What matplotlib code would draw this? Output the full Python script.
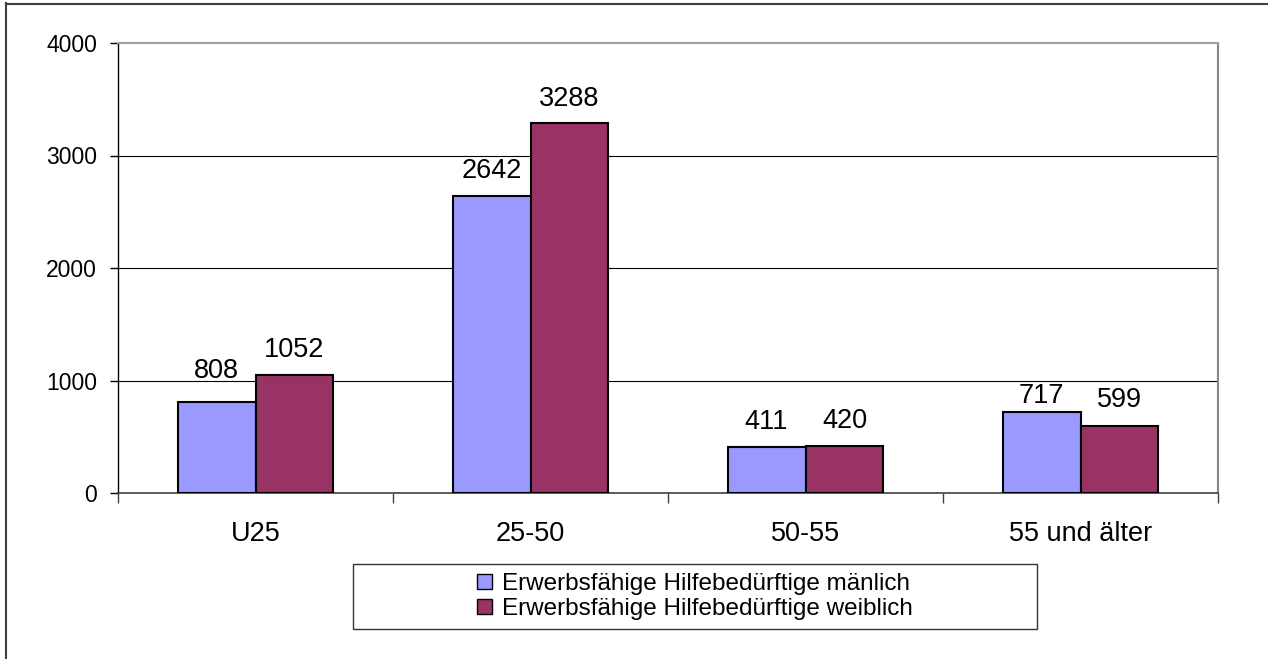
import matplotlib
matplotlib.use("Agg")
import matplotlib.pyplot as plt
from matplotlib.patches import Patch, Rectangle
from matplotlib.lines import Line2D
import numpy as np

plt.rcParams['font.family'] = ['Liberation Sans', 'DejaVu Sans']

# Data
categories = ["U25", "25-50", "50-55", "55 und älter"]
maennlich = [808, 2642, 411, 717]
weiblich = [1052, 3288, 420, 599]
series_labels = ["Erwerbsfähige Hilfebedürftige mänlich",
                 "Erwerbsfähige Hilfebedürftige weiblich"]
y_ticks = [0, 1000, 2000, 3000, 4000]

# Styling
col_m = "#9999FF"
col_w = "#993366"
bar_w = 0.2836
label_offsets_m = [17.3, 12.6, 12.9, 6.5]   # points above bar top
label_offsets_w = [13.0, 12.3, 12.9, 13.6]

W, H = 1268, 659
fig = plt.figure(figsize=(W / 100, H / 100), dpi=100)
fig.patch.set_facecolor("white")

ax = fig.add_axes([118 / W, 1 - 493 / H, 1100 / W, 450 / H])
x = np.arange(len(categories))

bars_m = ax.bar(x - bar_w / 2, maennlich, width=bar_w, color=col_m,
                edgecolor="black", linewidth=1.5, zorder=3)
bars_w = ax.bar(x + bar_w / 2, weiblich, width=bar_w, color=col_w,
                edgecolor="black", linewidth=1.5, zorder=3)

for bars, vals, offs in ((bars_m, maennlich, label_offsets_m),
                         (bars_w, weiblich, label_offsets_w)):
    for b, v, o in zip(bars, vals, offs):
        ax.annotate(str(v), (b.get_x() + b.get_width() / 2, v),
                    xytext=(0, o), textcoords="offset points",
                    ha="center", va="baseline", fontsize=19.5,
                    color="black", zorder=4)

# Horizontal gridlines between the axis limits
for t in y_ticks[1:-1]:
    ax.axhline(t, color="black", linewidth=0.8, zorder=1)

ax.set_xlim(-0.5, len(categories) - 0.5)
ax.set_ylim(y_ticks[0], y_ticks[-1])
ax.set_yticks(y_ticks)
ax.set_yticklabels([str(t) for t in y_ticks])
ax.tick_params(axis="y", direction="out", length=5.8, width=1,
               color="black", pad=9.4, labelsize=16.5)

ax.set_xticks(x)
ax.set_xticklabels(categories)
ax.tick_params(axis="x", which="major", length=0, pad=20.5, labelsize=19.5)
ax.set_xticks(np.arange(len(categories) + 1) - 0.5, minor=True)
ax.tick_params(axis="x", which="minor", direction="out", length=7.2,
               width=1, color="#404040")

ax.spines["left"].set_color("black")
ax.spines["left"].set_linewidth(1)
ax.spines["bottom"].set_color("#404040")
ax.spines["bottom"].set_linewidth(1.2)
ax.spines["top"].set_color("#a0a0a0")
ax.spines["top"].set_linewidth(1.5)
ax.spines["right"].set_color("#888888")
ax.spines["right"].set_linewidth(1.5)

# Legend with a wide frame
lx0, lx1, ly0, ly1 = 353, 1037, 564, 629
fig.add_artist(Rectangle((lx0 / W, 1 - ly1 / H), (lx1 - lx0) / W,
                         (ly1 - ly0) / H, transform=fig.transFigure,
                         facecolor="white", edgecolor="#333333",
                         linewidth=1))
handles = [Patch(facecolor=col_m, edgecolor="black", linewidth=1),
           Patch(facecolor=col_w, edgecolor="black", linewidth=1)]
fig.legend(handles, series_labels, loc="center",
           bbox_to_anchor=((lx0 + lx1) / 2 / W, 1 - (ly0 + ly1) / 2 / H),
           frameon=False, fontsize=17.5, handlelength=0.58,
           handleheight=0.58, handletextpad=0.42, labelspacing=0.13,
           borderpad=0)

# Outer frame (left and top edges)
fig.add_artist(Line2D([6 / W, 6 / W], [0, 1 - 3 / H],
                      transform=fig.transFigure, color="#404040",
                      linewidth=1.5))
fig.add_artist(Line2D([6 / W, 1], [1 - 4 / H, 1 - 4 / H],
                      transform=fig.transFigure, color="#404040",
                      linewidth=1.5))

fig.savefig("out.png", dpi=100, facecolor="white")
